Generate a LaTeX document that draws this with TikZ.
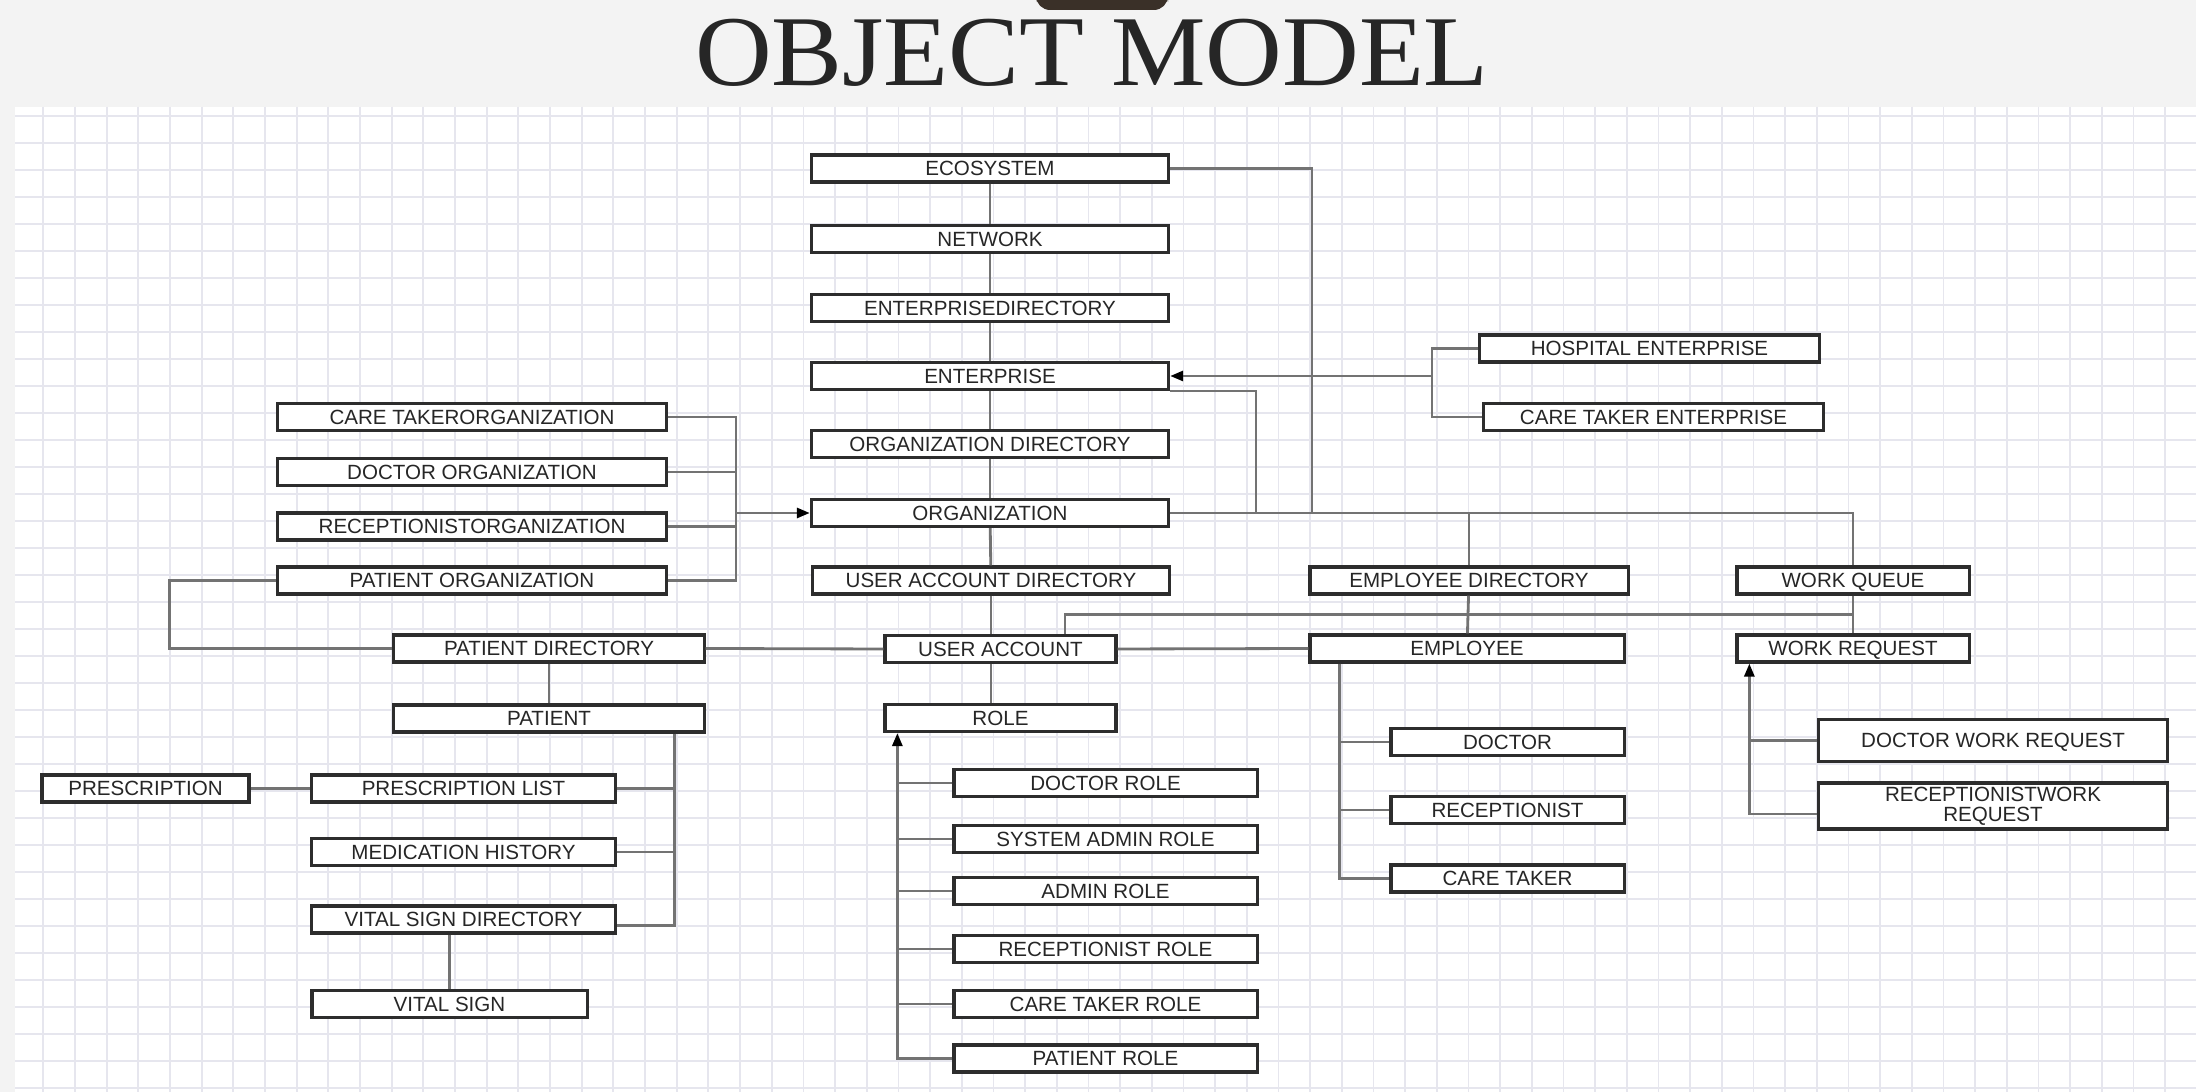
\documentclass[tikz,border=0pt]{standalone}
\usepackage{fontspec}
\newfontfamily\boxfont{Liberation Sans}
\newfontfamily\titlefont{Liberation Serif}
\usetikzlibrary{arrows.meta,positioning,calc}
\definecolor{pagebg}{RGB}{243,243,243}
\definecolor{gridcol}{RGB}{230,230,238}
\definecolor{wirecol}{RGB}{115,115,115}
\definecolor{boxline}{RGB}{45,45,45}
\definecolor{barcol}{RGB}{58,48,40}

\begin{document}
\begin{tikzpicture}[x=0.01cm,y=-0.01cm,>={Triangle[length=0.13cm,width=0.1cm,color=black]},
  cls/.style={draw=boxline,line width=0.9pt,fill=white,inner sep=0pt,minimum height=0.27cm,text height=4.2pt,text depth=0pt,text=black!85,font=\boxfont\fontsize{5.85}{5.8}\selectfont,align=center},
  wire/.style={draw=wirecol,line width=0.8pt},
  gridline/.style={draw=gridcol,line width=0.5pt}]
\useasboundingbox (0,0) rectangle (2196,1092);
\fill[pagebg] (0,0) rectangle (2196,1092);
\fill[white] (15,107) rectangle (2196,1092);
\foreach \i in {0,...,68}
  \draw[gridline] ({43.3+31.67*\i},107) -- ({43.3+31.67*\i},1092);
\foreach \j in {0,...,36}
  \draw[gridline] (15,{116+27*\j}) -- (2196,{116+27*\j});
\fill[barcol,rounded corners=4pt] (1036,-12) rectangle (1168,10);
\node[anchor=base,text=black!85,font=\titlefont\fontsize{28.5}{30}\selectfont] (title) at (1092,86) {\scalebox{1.06}[1]{OBJECT MODEL}};

\node[cls,minimum width=3.56cm] (eco) at (990,168.5) {ECOSYSTEM};
\node[cls,minimum width=3.56cm] (net) at (990,239) {NETWORK};
\node[cls,minimum width=3.56cm] (entdir) at (990,308) {ENTERPRISEDIRECTORY};
\node[cls,minimum width=3.57cm] (ent) at (990,376) {ENTERPRISE};
\node[cls,minimum width=3.56cm] (orgdir) at (990,444) {ORGANIZATION DIRECTORY};
\node[cls,minimum width=3.57cm] (org) at (990,513) {ORGANIZATION};
\node[cls,minimum width=3.56cm] (uadir) at (991,580.5) {USER ACCOUNT DIRECTORY};
\node[cls,minimum width=2.31cm] (ua) at (1000.5,649) {USER ACCOUNT};
\node[cls,minimum width=2.31cm] (role) at (1000.5,718) {ROLE};

\node[cls,minimum width=3.39cm] (hosp) at (1649.5,348.5) {HOSPITAL ENTERPRISE};
\node[cls,minimum width=3.39cm] (cte) at (1653.5,417) {CARE TAKER ENTERPRISE};
\node[cls,minimum width=3.18cm] (empdir) at (1469,580.5) {EMPLOYEE DIRECTORY};
\node[cls,minimum width=2.32cm] (wq) at (1853,580.5) {WORK QUEUE};
\node[cls,minimum width=3.14cm] (emp) at (1467,648.5) {EMPLOYEE};
\node[cls,minimum width=2.32cm] (wr) at (1853,648.5) {WORK REQUEST};
\node[cls,minimum width=2.33cm] (doc) at (1507.5,742) {DOCTOR};
\node[cls,minimum width=2.33cm] (rec) at (1507.5,810) {RECEPTIONIST};
\node[cls,minimum width=2.33cm] (ct) at (1507.5,878.5) {CARE TAKER};
\node[cls,minimum width=3.48cm,minimum height=0.42cm] (dwr) at (1993,740.5) {DOCTOR WORK REQUEST};
\node[cls,minimum width=3.48cm,minimum height=0.46cm,text height={},text depth={}] (rwr) at (1993,806) {RECEPTIONISTWORK\\REQUEST};

\node[cls,minimum width=3.88cm] (cto) at (472,417) {CARE TAKERORGANIZATION};
\node[cls,minimum width=3.88cm] (dorg) at (472,472) {DOCTOR ORGANIZATION};
\node[cls,minimum width=3.88cm] (rorg) at (472,526.5) {RECEPTIONISTORGANIZATION};
\node[cls,minimum width=3.88cm] (porg) at (472,580.5) {PATIENT ORGANIZATION};
\node[cls,minimum width=3.10cm] (pdir) at (549,648.5) {PATIENT DIRECTORY};
\node[cls,minimum width=3.10cm] (pat) at (549,718.5) {PATIENT};
\node[cls,minimum width=2.07cm] (presc) at (145.5,788.5) {PRESCRIPTION};
\node[cls,minimum width=3.03cm] (plist) at (463.5,788.5) {PRESCRIPTION LIST};
\node[cls,minimum width=3.03cm] (medh) at (463.5,852) {MEDICATION HISTORY};
\node[cls,minimum width=3.03cm] (vsd) at (463.5,919.5) {VITAL SIGN DIRECTORY};
\node[cls,minimum width=2.75cm] (vs) at (449.5,1004) {VITAL SIGN};

\node[cls,minimum width=3.03cm] (docr) at (1105.5,783) {DOCTOR ROLE};
\node[cls,minimum width=3.03cm] (sysr) at (1105.5,839) {SYSTEM ADMIN ROLE};
\node[cls,minimum width=3.03cm] (admr) at (1105.5,891) {ADMIN ROLE};
\node[cls,minimum width=3.03cm] (recr) at (1105.5,949) {RECEPTIONIST ROLE};
\node[cls,minimum width=3.03cm] (ctr) at (1105.5,1004) {CARE TAKER ROLE};
\node[cls,minimum width=3.03cm] (patr) at (1105.5,1058.5) {PATIENT ROLE};

\draw[wire] (eco) -- (net);
\draw[wire] (net) -- (entdir);
\draw[wire] (entdir) -- (ent);
\draw[wire] (ent) -- (orgdir);
\draw[wire] (orgdir) -- (org);
\draw[wire] (org) -- (uadir);
\draw[wire] (uadir.south) -- (uadir.south |- ua.north);
\draw[wire] (ua.south -| uadir.south) -- (role.north -| uadir.south);

\coordinate (j1) at (1312,513);
\coordinate (j2) at (1256,513);
\draw[wire] (eco.east) -| (j1);
\draw[wire] (ent.south east) -| (j2);
\draw[wire] (org.east) -| (wq.north);
\draw[wire] (empdir.north) -- (empdir.north |- org.east);
\draw[wire] (wq) -- (wr);
\draw[wire] (empdir) -- (emp);

\coordinate (ej) at (1432,376);
\draw[wire] (hosp.west) -| (ej) |- (cte.west);
\draw[wire,->] (ej) -- (ent.east);

\coordinate (oj) at (736,513);
\draw[wire] (cto.east) -| (oj) |- (porg.east);
\draw[wire] (dorg.east) -- (dorg.east -| oj);
\draw[wire] (rorg.east) -- (rorg.east -| oj);
\draw[wire,->] (oj) -- (org.west);

\draw[wire] (porg.west) -- ++(-107,0) |- (pdir.west);
\draw[wire] (pdir.east) -- (ua.west);
\draw[wire] (ua.east) -- (emp.west);
\draw[wire] ([xshift=.645cm]ua.north) |- ($(wq.south)!.5!(wr.north)$);
\draw[wire] (pdir) -- (pat);
\coordinate (pj) at ([xshift=-.31cm]pat.south east);
\draw[wire] (pj) |- ([yshift=-.06cm]vsd.east);
\draw[wire] (plist.east) -- (plist.east -| pj);
\draw[wire] (medh.east) -- (medh.east -| pj);
\draw[wire] (presc) -- (plist);
\draw[wire] (vsd.south -| vs.north) -- (vs.north);

\coordinate (rj) at ([xshift=.14cm]role.south west);
\draw[wire,->] (patr.west) -| (rj);
\foreach \r in {docr,sysr,admr,recr,ctr}
  \draw[wire] (\r.west) -- (\r.west -| rj);

\coordinate (mj) at ([xshift=.31cm]emp.south west);
\draw[wire] (mj) |- (ct.west);
\draw[wire] (doc.west) -- (doc.west -| mj);
\draw[wire] (rec.west) -- (rec.west -| mj);

\coordinate (wj) at ([xshift=.14cm]wr.south west);
\draw[wire,->] ([yshift=-.08cm]rwr.west) -| (wj);
\draw[wire] (dwr.west) -- (dwr.west -| wj);
\end{tikzpicture}
\end{document}
